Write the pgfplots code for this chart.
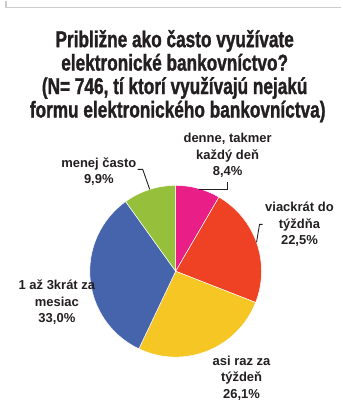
\documentclass[border=0pt]{standalone}
\usepackage{pgfplots}
\usepackage{pgfplotstable}
\pgfplotsset{compat=1.18}
\usepackage{fontspec}
\setmainfont{Liberation Sans}
\newfontfamily\titlefont[FakeStretch=0.75, FakeBold=1.2]{Liberation Sans Bold}

\definecolor{slice0}{HTML}{E91E87}
\definecolor{slice1}{HTML}{EF4123}
\definecolor{slice2}{HTML}{F5C624}
\definecolor{slice3}{HTML}{4664AC}
\definecolor{slice4}{HTML}{96C03C}
\definecolor{txt}{HTML}{231F20}
\definecolor{frame}{HTML}{CCCCCC}

% podiel odpovedi v %, od vrchu v smere hodinovych ruciciek
\pgfplotstableread{
value
8.4
22.5
26.1
33.0
9.9
}\piedata

\begin{document}
\begin{tikzpicture}
\begin{axis}[
    x=1pt, y=1pt,
    xmin=0, xmax=342, ymin=0, ymax=405,
    hide axis, clip=false,
  ]
  \path (axis cs:0,0) rectangle (axis cs:342,405);
  % ramik
  \draw[frame, line width=1.5pt] (axis cs:6,405) -- (axis cs:6,398) -- (axis cs:342,398);

  % nadpis
  \begin{scope}[every node/.style={anchor=base, text=txt,
      font=\titlefont\fontsize{23}{23}\selectfont}]
    \node at (axis cs:175,358.5) {Približne ako často využívate};
    \node at (axis cs:175,335) {elektronické bankovníctvo?};
    \node at (axis cs:175,311.5) {(N= 746, tí ktorí využívajú nejakú};
    \node at (axis cs:178,288) {formu elektronického bankovníctva)};
  \end{scope}

  % kolac
  \pgfplotsextra{
    \gdef\tot{0}
    \pgfplotstableforeachcolumnelement{value}\of\piedata\as\v{%
      \pgfmathsetmacro\t{\tot+\v}\xdef\tot{\t}}
    \gdef\ang{90}
    \pgfplotstableforeachcolumnelement{value}\of\piedata\as\v{%
      \edef\col{slice\pgfplotstablerow}
      \pgfmathsetmacro\nxt{\ang-360*\v/\tot}
      \fill[fill=\col, draw=white, line width=0.5pt]
        (axis cs:176,134) -- ([shift={(\ang:86pt)}]axis cs:176,134)
        arc[start angle=\ang, end angle=\nxt, radius=86pt] -- cycle;
      \xdef\ang{\nxt}}
  }

  % popisky
  \begin{scope}[every node/.style={align=center, text=txt,
      font=\bfseries\fontsize{13}{16.5}\selectfont}]
    \node at (axis cs:228,250) {denne, takmer\\každý deň\\8,4\%};
    \node at (axis cs:300,181) {viackrát do\\týždňa\\22,5\%};
    \node at (axis cs:242,27) {asi raz za\\týždeň\\26,1\%};
    \node at (axis cs:57,103) {1 až 3krát za\\mesiac\\33,0\%};
    \node at (axis cs:99,234) {menej často\\9,9\%};
  \end{scope}

  % odkazove ciary
  \draw[txt, line width=0.9pt] (axis cs:199,216) -- (axis cs:228,216) -- (axis cs:228,223);
  \draw[txt, line width=0.9pt] (axis cs:138,236) -- (axis cs:143,236) -- (axis cs:150,216);
  \draw[txt, line width=0.9pt] (axis cs:263,181) -- (axis cs:260,181) -- (axis cs:257,163);
\end{axis}
\end{tikzpicture}
\end{document}
